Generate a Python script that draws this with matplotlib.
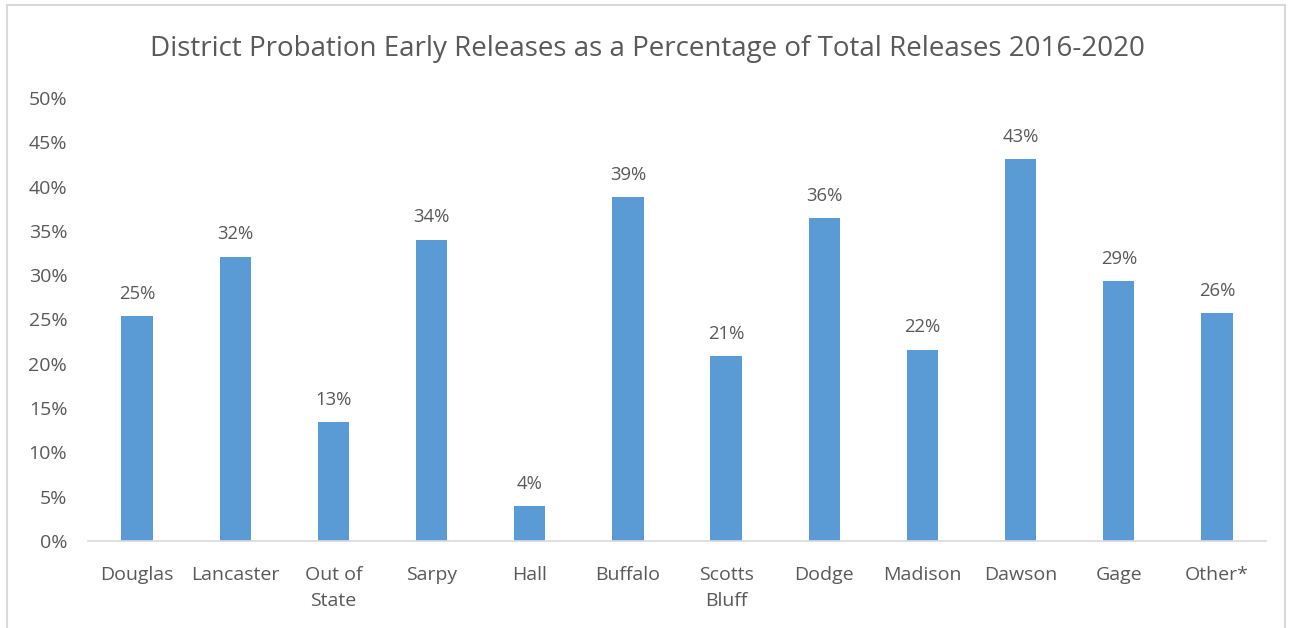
import matplotlib.pyplot as plt
from matplotlib.patches import Rectangle
import numpy as np

districts = ['Douglas', 'Lancaster', 'Out of\nState', 'Sarpy', 'Hall', 'Buffalo',
             'Scotts\nBluff', 'Dodge', 'Madison', 'Dawson', 'Gage', 'Other*']
early_pct = [25.4, 32.1, 13.4, 34.0, 3.9, 38.8, 20.9, 36.4, 21.6, 43.1, 29.3, 25.7]
y_ticks = [0, 5, 10, 15, 20, 25, 30, 35, 40, 45, 50]

bar_color = '#5B9BD5'
text_color = '#595959'
grid_color = '#D9D9D9'

plt.rcParams['font.family'] = ['Open Sans', 'DejaVu Sans']

fig = plt.figure(figsize=(12.95, 6.28), dpi=100)
ax = fig.add_axes([0.068, 0.1385, 0.9096, 0.7055])

x = np.arange(len(districts))
ax.bar(x, early_pct, width=0.32, color=bar_color, zorder=2)

for xi, v in zip(x, early_pct):
    ax.text(xi, v + 1.5, f"{round(v):.0f}%", ha='center', va='bottom',
            fontsize=13.3, color=text_color)

ax.set_xlim(-0.5, len(districts) - 0.5)
ax.set_ylim(0, 50)
ax.set_yticks(y_ticks)
ax.set_yticklabels([f"{t}%" for t in y_ticks])
ax.set_xticks(x)
ax.set_xticklabels(districts, linespacing=1.55)

ax.tick_params(axis='both', length=0, labelsize=14, colors=text_color)
ax.tick_params(axis='x', pad=18)
ax.tick_params(axis='y', pad=15)

for side in ['top', 'right', 'left']:
    ax.spines[side].set_visible(False)
ax.spines['bottom'].set_color(grid_color)
ax.spines['bottom'].set_linewidth(1.2)

fig.text(0.5, 0.922, 'District Probation Early Releases as a Percentage of Total Releases 2016-2020',
         ha='center', va='center', fontsize=20, color=text_color)

# chart area border
fig.patches.append(Rectangle((7 / 1295, -0.05), (1285 - 7) / 1295, 1.05 - 5 / 628,
                             transform=fig.transFigure, fill=False,
                             edgecolor=grid_color, linewidth=1.5))

fig.savefig('out.png', dpi=100)
